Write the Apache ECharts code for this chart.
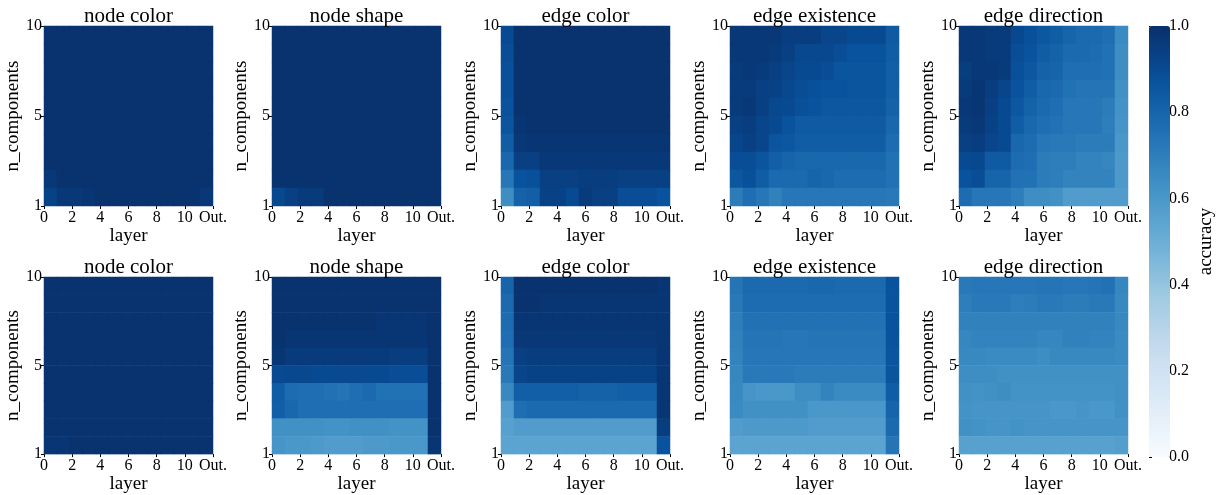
<!DOCTYPE html>
<html><head><meta charset="utf-8">
<script src="https://cdn.jsdelivr.net/npm/echarts@6/dist/echarts.min.js"></script>
<style>html,body{margin:0;padding:0;background:#fff}#c{width:1217px;height:495px}</style>
</head><body><div id="c"></div>
<script>
// ---- categories / ticks ----
const layers = ['0','1','2','3','4','5','6','7','8','9','10','11','Out.'];
const nComponents = ['1','2','3','4','5','6','7','8','9','10'];
const xTickLabels = ['0','2','4','6','8','10','Out.'];
const yTickLabels = ['1','5','10'];
const panelTitles = ['node color','node shape','edge color','edge existence','edge direction',
                     'node color','node shape','edge color','edge existence','edge direction'];

// ---- values: rows listed from n_components = 10 (top) down to 1 (bottom), 13 columns (layers 0..11, Out.) ----
const topNodeColor = [
 [.99,.99,.99,.99,.99,.99,.99,.99,.99,.99,.99,.99,.99],
 [.99,.99,.99,.99,.99,.99,.99,.99,.99,.99,.99,.99,.99],
 [.99,.99,.99,.99,.99,.99,.99,.99,.99,.99,.99,.99,.99],
 [.99,.99,.99,.99,.99,.99,.99,.99,.99,.99,.99,.99,.99],
 [.99,.99,.99,.99,.99,.99,.99,.99,.99,.99,.99,.99,.99],
 [.99,.99,.99,.99,.99,.99,.99,.99,.99,.99,.99,.99,.99],
 [.99,.99,.99,.99,.99,.99,.99,.99,.99,.99,.99,.99,.99],
 [.99,.99,.99,.99,.99,.99,.99,.99,.99,.99,.99,.99,.99],
 [.97,.99,.99,.99,.99,.99,.99,.99,.99,.99,.99,.99,.99],
 [.93,.97,.97,.98,.99,.99,.99,.99,.99,.99,.99,.99,.97]
];
const topNodeShape = [
 [.99,.99,.99,.99,.99,.99,.99,.99,.99,.99,.99,.99,.99],
 [.99,.99,.99,.99,.99,.99,.99,.99,.99,.99,.99,.99,.99],
 [.99,.99,.99,.99,.99,.99,.99,.99,.99,.99,.99,.99,.99],
 [.99,.99,.99,.99,.99,.99,.99,.99,.99,.99,.99,.99,.99],
 [.99,.99,.99,.99,.99,.99,.99,.99,.99,.99,.99,.99,.99],
 [.99,.99,.99,.99,.99,.99,.99,.99,.99,.99,.99,.99,.99],
 [.99,.99,.99,.99,.99,.99,.99,.99,.99,.99,.99,.99,.99],
 [.99,.99,.99,.99,.99,.99,.99,.99,.99,.99,.99,.99,.99],
 [.99,.99,.99,.99,.99,.99,.99,.99,.99,.99,.99,.99,.99],
 [.91,.94,.96,.96,.99,.99,.99,.99,.99,.99,.99,.99,.99]
];
const topEdgeColor = [
 [.90,.99,.99,.99,.99,.99,.99,.99,.99,.99,.99,.99,.99],
 [.89,.99,.99,.99,.99,.99,.99,.99,.99,.99,.99,.99,.99],
 [.88,.99,.99,.99,.99,.99,.99,.99,.99,.99,.99,.99,.99],
 [.88,.99,.99,.99,.99,.99,.99,.99,.99,.99,.99,.99,.99],
 [.87,.99,.99,.99,.99,.99,.99,.99,.99,.99,.99,.99,.99],
 [.86,.98,.99,.99,.99,.99,.99,.99,.99,.99,.99,.99,.99],
 [.83,.97,.98,.98,.98,.98,.98,.98,.98,.98,.98,.98,.98],
 [.79,.94,.94,.97,.97,.97,.97,.97,.97,.97,.97,.97,.97],
 [.73,.87,.88,.94,.94,.94,.95,.95,.95,.94,.94,.94,.94],
 [.64,.81,.82,.93,.93,.90,.96,.94,.94,.89,.89,.89,.87]
];
const topEdgeExistence = [
 [.97,.97,.97,.97,.95,.95,.95,.92,.92,.90,.90,.90,.84],
 [.97,.97,.97,.96,.94,.91,.91,.91,.89,.87,.87,.87,.83],
 [.96,.97,.96,.94,.92,.90,.90,.89,.86,.86,.86,.86,.82],
 [.96,.96,.94,.93,.91,.89,.88,.87,.87,.86,.86,.86,.82],
 [.96,.97,.94,.91,.90,.88,.87,.85,.85,.85,.85,.85,.81],
 [.94,.95,.92,.90,.87,.84,.84,.84,.84,.84,.84,.84,.79],
 [.92,.94,.92,.86,.85,.83,.83,.83,.83,.83,.83,.83,.77],
 [.89,.89,.86,.82,.80,.79,.79,.79,.79,.79,.79,.79,.75],
 [.85,.88,.83,.78,.78,.78,.80,.79,.77,.77,.77,.77,.75],
 [.71,.76,.73,.69,.73,.73,.73,.73,.73,.73,.73,.73,.72]
];
const topEdgeDirection = [
 [.97,.97,.96,.96,.91,.88,.85,.83,.80,.78,.78,.76,.65],
 [.97,.97,.96,.96,.89,.87,.83,.81,.78,.78,.77,.75,.64],
 [.95,.97,.97,.96,.88,.85,.81,.80,.76,.76,.76,.75,.64],
 [.96,.98,.95,.92,.87,.83,.79,.78,.75,.74,.74,.74,.63],
 [.97,.98,.94,.90,.85,.81,.78,.76,.73,.73,.73,.71,.62],
 [.96,.97,.93,.90,.83,.79,.76,.75,.73,.73,.73,.70,.61],
 [.94,.95,.92,.90,.79,.77,.73,.72,.72,.71,.71,.71,.60],
 [.90,.91,.84,.84,.77,.76,.71,.70,.70,.68,.68,.67,.59],
 [.87,.89,.80,.80,.75,.75,.71,.70,.68,.68,.68,.68,.59],
 [.77,.73,.73,.73,.70,.64,.64,.63,.58,.58,.58,.58,.58]
];
const botNodeColor = [
 [.99,.99,.99,.99,.99,.99,.99,.99,.99,.99,.99,.99,.99],
 [.99,.99,.99,.99,.99,.99,.99,.99,.99,.99,.99,.99,.99],
 [.99,.99,.99,.99,.99,.99,.99,.99,.99,.99,.99,.99,.99],
 [.99,.99,.99,.99,.99,.99,.99,.99,.99,.99,.99,.99,.99],
 [.99,.99,.99,.99,.99,.99,.99,.99,.99,.99,.99,.99,.99],
 [.99,.99,.99,.99,.99,.99,.99,.99,.99,.99,.99,.99,.99],
 [.99,.99,.99,.99,.99,.99,.99,.99,.99,.99,.99,.99,.99],
 [.99,.99,.99,.99,.99,.99,.99,.99,.99,.99,.99,.99,.99],
 [.99,.99,.99,.99,.99,.99,.99,.99,.99,.99,.99,.99,.99],
 [.98,.98,.99,.99,.99,.99,.99,.99,.99,.99,.99,.99,.99]
];
const botNodeShape = [
 [.99,.99,.99,.99,.99,.99,.99,.99,.99,.99,.99,.99,.99],
 [.99,.99,.99,.99,.99,.99,.99,.99,.99,.99,.99,.99,.99],
 [.99,.99,.99,.99,.99,.99,.99,.99,.98,.98,.98,.98,.99],
 [.99,.98,.98,.98,.98,.98,.98,.98,.98,.98,.98,.98,.99],
 [.98,.96,.96,.96,.96,.96,.96,.96,.96,.95,.95,.95,.99],
 [.90,.91,.91,.90,.90,.90,.90,.90,.90,.89,.89,.89,.99],
 [.83,.77,.76,.76,.75,.74,.76,.78,.75,.75,.75,.75,.99],
 [.82,.79,.76,.76,.76,.76,.76,.76,.76,.76,.76,.76,.99],
 [.63,.63,.63,.63,.62,.62,.63,.63,.63,.62,.62,.62,.99],
 [.61,.60,.60,.59,.58,.58,.58,.59,.59,.60,.60,.60,.98]
];
const botEdgeColor = [
 [.80,.99,.99,.99,.99,.99,.99,.99,.99,.99,.99,.99,.98],
 [.78,.99,.99,.98,.98,.98,.98,.98,.98,.98,.98,.98,.98],
 [.77,.98,.98,.98,.98,.98,.98,.98,.98,.98,.98,.98,.98],
 [.76,.97,.97,.97,.97,.97,.97,.97,.97,.97,.97,.97,.98],
 [.74,.94,.95,.95,.95,.95,.95,.95,.95,.95,.95,.95,.98],
 [.72,.92,.93,.93,.93,.93,.93,.93,.93,.93,.93,.93,.98],
 [.66,.82,.82,.82,.82,.82,.81,.81,.81,.82,.82,.82,.98],
 [.58,.76,.78,.78,.78,.78,.78,.78,.78,.78,.78,.78,.98],
 [.56,.58,.58,.58,.58,.58,.58,.58,.58,.58,.58,.58,.95],
 [.55,.55,.55,.55,.55,.55,.55,.55,.55,.55,.55,.55,.87]
];
const botEdgeExistence = [
 [.74,.78,.78,.78,.78,.78,.79,.79,.78,.78,.78,.78,.87],
 [.72,.77,.77,.77,.77,.77,.77,.77,.77,.77,.77,.77,.87],
 [.70,.75,.75,.75,.75,.75,.75,.75,.75,.75,.75,.75,.87],
 [.69,.74,.74,.74,.73,.73,.74,.74,.74,.74,.74,.74,.87],
 [.68,.73,.73,.73,.73,.73,.73,.73,.73,.73,.73,.73,.86],
 [.67,.72,.72,.72,.72,.71,.71,.71,.71,.71,.71,.71,.86],
 [.66,.61,.60,.60,.60,.64,.64,.68,.65,.65,.65,.65,.83],
 [.65,.63,.63,.63,.63,.63,.60,.60,.60,.60,.60,.60,.80],
 [.58,.59,.59,.59,.59,.59,.58,.58,.58,.58,.58,.58,.78],
 [.55,.55,.55,.55,.55,.55,.55,.55,.55,.55,.55,.55,.74]
];
const botEdgeDirection = [
 [.72,.73,.73,.73,.73,.73,.74,.74,.73,.73,.74,.75,.67],
 [.70,.72,.72,.72,.70,.71,.72,.72,.71,.71,.72,.72,.66],
 [.69,.69,.69,.69,.69,.69,.69,.69,.69,.69,.69,.69,.66],
 [.67,.68,.68,.68,.68,.68,.67,.67,.69,.69,.68,.68,.65],
 [.66,.66,.65,.65,.65,.65,.64,.66,.66,.66,.66,.66,.65],
 [.64,.64,.64,.63,.63,.63,.63,.63,.63,.63,.63,.63,.63],
 [.63,.62,.63,.64,.62,.62,.62,.62,.62,.62,.62,.62,.63],
 [.62,.61,.61,.61,.61,.61,.61,.60,.60,.61,.60,.60,.63],
 [.63,.62,.61,.61,.62,.61,.61,.61,.61,.61,.61,.61,.61],
 [.56,.56,.56,.56,.56,.56,.56,.56,.56,.56,.56,.56,.57]
];
const panels = [topNodeColor, topNodeShape, topEdgeColor, topEdgeExistence, topEdgeDirection,
                botNodeColor, botNodeShape, botEdgeColor, botEdgeExistence, botEdgeDirection];

const blues = ['#f7fbff','#deebf7','#c6dbef','#9ecae1','#6baed6','#4292c6','#2171b5','#08519c','#08306b'];
const FONT = 'Liberation Serif';

const lefts = [44, 272, 501, 730, 959];
const tops = [26, 277];
const W = 169, H = 180;

const grid = [], xAxis = [], yAxis = [], series = [], title = [];
panels.forEach((mat, i) => {
  const col = i % 5, row = Math.floor(i / 5);
  grid.push({left: lefts[col], top: tops[row], width: W, height: H, show: false});
  title.push({text: panelTitles[i], left: lefts[col] + W / 2, top: tops[row] - 20, textAlign: 'center',
              padding: 0, textStyle: {fontFamily: FONT, fontSize: 21, fontWeight: 'normal', color: '#000'}});
  xAxis.push({type: 'category', gridIndex: i, data: layers, show: false});
  xAxis.push({type: 'value', gridIndex: i, min: 0, max: xTickLabels.length - 1, interval: 1, position: 'bottom',
              axisLine: {show: false}, splitLine: {show: false},
              axisTick: {show: true, length: 3, lineStyle: {color: '#000'}},
              axisLabel: {margin: 4, fontFamily: FONT, fontSize: 16, color: '#000', formatter: v => xTickLabels[v]},
              name: 'layer', nameLocation: 'middle', nameGap: 16,
              nameTextStyle: {fontFamily: FONT, fontSize: 19, color: '#000', verticalAlign: 'top'}});
  yAxis.push({type: 'category', gridIndex: i, data: nComponents, show: false});
  yAxis.push({type: 'value', gridIndex: i, min: 0, max: yTickLabels.length - 1, interval: 1, position: 'left',
              axisLine: {show: false}, splitLine: {show: false},
              axisTick: {show: true, length: 3, lineStyle: {color: '#000'}},
              axisLabel: {margin: 2, fontFamily: FONT, fontSize: 16, color: '#000', formatter: v => yTickLabels[v]},
              name: 'n_components', nameLocation: 'middle', nameGap: 21, nameRotate: 90,
              nameTextStyle: {fontFamily: FONT, fontSize: 19, color: '#000'}});
  const data = [];
  mat.forEach((r, ri) => r.forEach((v, ci) => data.push([ci, mat.length - 1 - ri, v])));
  series.push({type: 'heatmap', xAxisIndex: 2 * i, yAxisIndex: 2 * i, data: data,
               itemStyle: {borderWidth: 0}, emphasis: {disabled: true}, animation: false});
});

// colorbar axis
grid.push({left: 1149, top: 26, width: 21, height: 431, show: false});
xAxis.push({type: 'value', gridIndex: 10, show: false, min: 0, max: 1});
yAxis.push({type: 'value', gridIndex: 10, min: 0, max: 1, interval: 0.2, position: 'right',
            axisLine: {show: false}, splitLine: {show: false},
            axisTick: {show: true, length: 3, lineStyle: {color: '#000'}},
            axisLabel: {margin: 3, fontFamily: FONT, fontSize: 16, color: '#000', formatter: v => v.toFixed(1)},
            name: 'accuracy', nameLocation: 'middle', nameGap: 31, nameRotate: 90,
            nameTextStyle: {fontFamily: FONT, fontSize: 19, color: '#000'}});

const chart = echarts.init(document.getElementById('c'), null, {renderer: 'canvas'});
chart.setOption({
  animation: false,
  backgroundColor: '#fff',
  title, grid, xAxis, yAxis, series,
  visualMap: {type: 'continuous', min: 0, max: 1, seriesIndex: [0,1,2,3,4,5,6,7,8,9],
              orient: 'vertical', left: 1149, top: 26, itemWidth: 21, itemHeight: 431, padding: 0,
              calculable: false, hoverLink: false, text: null, showLabel: false,
              inRange: {color: blues}, textStyle: {color: 'transparent'}}
});
</script></body></html>
